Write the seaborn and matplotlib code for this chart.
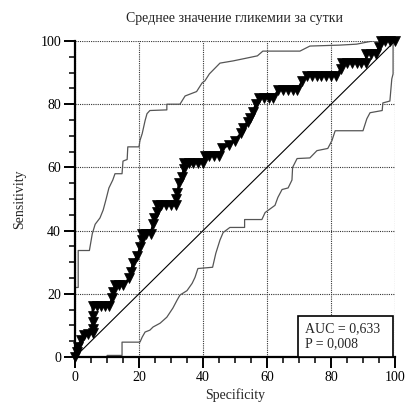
import numpy as np
import pandas as pd
import matplotlib
matplotlib.use("Agg")
import matplotlib.pyplot as plt
from matplotlib.patches import Rectangle
from matplotlib.ticker import MultipleLocator
import seaborn as sns

# ROC curve (specificity shown as 100 - spec)
roc_spec = [0, 0.5, 0.8, 1.9, 2.8, 4.0, 5.5, 5.5, 5.5, 5.5, 5.5, 6.8, 8.0, 9.3, 10.6,
            11.6, 12.0, 12.5, 13.8, 15.0, 17.0, 17.6, 18.0, 19.5, 20.3, 21.0, 21.0,
            22.3, 23.6, 24.4, 24.8, 25.6, 25.6, 27.0, 28.5, 30.0, 31.5, 31.5, 32.0,
            32.5, 33.4, 34.0, 34.0, 35.5, 37.0, 38.5, 40.0, 40.6, 42.0, 43.5, 45.0,
            46.0, 48.0, 50.0, 52.0, 52.5, 54.0, 54.7, 55.6, 56.5, 57.5, 59.0, 60.5,
            62.0, 63.5, 65.0, 66.5, 68.0, 69.5, 71.0, 72.5, 74.0, 75.5, 77.0, 78.5,
            80.0, 81.5, 83.0, 83.5, 85.0, 86.5, 88.0, 89.5, 91.0, 91.0, 92.5, 94.0,
            95.0, 95.5, 97.0, 98.5, 100.0]
roc_sens = [0, 1.5, 3.2, 5.4, 7.0, 7.2, 7.5, 9.0, 11.0, 13.0, 16.0, 16.0, 16.0, 16.0, 16.0,
            18.6, 20.5, 22.7, 22.7, 22.7, 25.0, 27.0, 29.6, 32.0, 34.7, 37.0, 39.0,
            39.0, 39.0, 42.0, 44.0, 46.0, 48.0, 48.0, 48.0, 48.0, 48.0, 50.0, 52.0,
            55.0, 57.0, 59.5, 61.5, 61.5, 61.5, 61.5, 61.5, 63.7, 63.7, 63.7, 63.7,
            66.0, 67.0, 68.5, 71.0, 72.6, 74.5, 75.7, 77.5, 80.0, 82.0, 82.0, 82.0,
            82.0, 84.5, 84.5, 84.5, 84.5, 84.5, 87.4, 89.0, 89.0, 89.0, 89.0, 89.0,
            89.0, 89.0, 91.0, 93.0, 93.0, 93.0, 93.0, 93.0, 93.0, 96.0, 96.0, 96.0,
            98.0, 100.0, 100.0, 100.0, 100.0]

# upper confidence band
upper_spec = [0, 1.0, 1.0, 4.5, 5.4, 6.3, 7.8, 8.8, 9.6, 10.6, 11.8, 12.5, 14.7, 15.0,
              16.3, 16.5, 20.0, 20.3, 21.0, 21.9, 22.5, 23.4, 28.7, 28.7, 32.8, 34.4,
              38.0, 39.7, 40.6, 42.0, 45.3, 49.4, 53.7, 57.0, 58.7, 70.3, 73.4, 82.8,
              88.0, 93.0, 100.0]
upper_sens = [22.0, 22.0, 33.7, 33.7, 39.0, 42.0, 44.0, 46.5, 49.5, 53.5, 56.0, 58.0, 58.0,
              62.0, 62.5, 66.5, 66.5, 68.5, 70.7, 74.8, 77.0, 78.0, 78.2, 80.0, 80.0,
              82.6, 84.0, 86.7, 87.4, 89.6, 93.0, 93.7, 94.6, 95.3, 96.8, 96.8, 98.4,
              98.7, 99.0, 100.0, 100.0]

# lower confidence band
lower_spec = [10.0, 14.7, 14.7, 20.3, 21.0, 21.9, 23.4, 24.4, 26.6, 28.7, 30.6, 31.9,
              32.8, 35.0, 36.6, 37.5, 38.4, 43.0, 44.0, 45.3, 46.3, 48.4, 53.0, 53.0,
              58.4, 59.4, 62.5, 63.4, 64.7, 66.6, 67.8, 68.0, 69.4, 73.4, 75.6, 79.0,
              80.3, 81.3, 90.0, 91.2, 92.2, 96.0, 96.2, 98.4, 99.0, 99.4, 99.4]
lower_sens = [0.5, 0.5, 4.7, 4.7, 6.3, 7.9, 8.5, 9.5, 10.7, 12.6, 15.5, 18.0, 19.6, 21.0,
              23.3, 25.2, 28.0, 28.4, 32.8, 37.0, 39.4, 41.0, 41.0, 43.5, 43.5, 45.7,
              48.0, 50.5, 53.0, 53.5, 56.0, 60.0, 62.8, 63.0, 65.3, 66.0, 68.5, 71.6,
              71.6, 75.4, 77.3, 78.0, 80.4, 81.0, 88.0, 89.6, 100.0]

diag = [0, 100]

title = "Среднее значение гликемии за сутки"
stats_text = "AUC = 0,633\nP = 0,008"

sns.set_theme(style="ticks")
plt.rcParams["font.family"] = ["Liberation Serif", "DejaVu Serif"]
plt.rcParams["font.size"] = 10

fig = plt.figure(figsize=(4.06, 4.08), dpi=100)
ax = fig.add_axes([75 / 406, 51 / 408, 320 / 406, 316 / 408])

ax.set_xlim(0, 100)
ax.set_ylim(0, 100)

# grid
ax.xaxis.set_major_locator(MultipleLocator(20))
ax.yaxis.set_major_locator(MultipleLocator(20))
ax.xaxis.set_minor_locator(MultipleLocator(5))
ax.yaxis.set_minor_locator(MultipleLocator(5))
ax.grid(True, which="major", color="#333333", linestyle=(0, (1, 1)), linewidth=0.8)
ax.set_axisbelow(True)

sns.lineplot(x=upper_spec, y=upper_sens, sort=False, estimator=None,
             color="#555555", linewidth=0.9, ax=ax)
sns.lineplot(x=lower_spec, y=lower_sens, sort=False, estimator=None,
             color="#555555", linewidth=0.9, ax=ax)
sns.lineplot(x=diag, y=diag, sort=False, estimator=None,
             color="black", linewidth=0.8, ax=ax)
sns.lineplot(x=roc_spec, y=roc_sens, sort=False, estimator=None,
             color="black", linewidth=1.6, marker="v", markersize=7,
             markeredgecolor="black", markeredgewidth=0.5, clip_on=False, zorder=5, ax=ax)

# stats box
ax.add_patch(Rectangle((69.7, 0), 29.7, 13, facecolor="white", edgecolor="black",
                       linewidth=1.2, zorder=6))
ax.text(71.9, 6.6, stats_text, ha="left", va="center", fontsize=10,
        linespacing=1.25, zorder=7)

for side in ["top", "right"]:
    ax.spines[side].set_visible(False)
for side in ["left", "bottom"]:
    ax.spines[side].set_linewidth(1.6)
    ax.spines[side].set_color("black")

ax.tick_params(which="major", direction="out", length=8, width=1.4, pad=2,
               labelsize=10, colors="black")
ax.tick_params(which="minor", direction="out", length=4, width=1.1, colors="black")

ax.set_xlabel("Specificity", fontsize=10, labelpad=3)
ax.set_ylabel("Sensitivity", fontsize=10, labelpad=10)
ax.set_title(title, fontsize=10, pad=14)

fig.savefig("out.png", dpi=100)
